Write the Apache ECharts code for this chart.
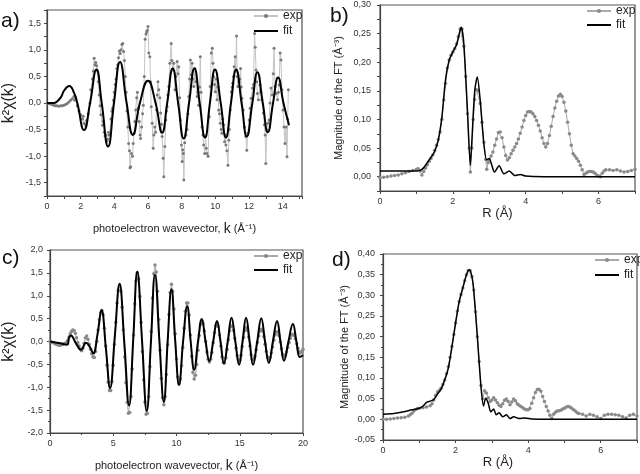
<!DOCTYPE html>
<html><head><meta charset="utf-8">
<script src="https://cdn.jsdelivr.net/npm/echarts@6/dist/echarts.min.js"></script>
<style>html,body{margin:0;padding:0;background:#fff}#c{width:640px;height:474px}</style>
</head><body><div id="c"></div>
<script>
// ---- panel a: k^2 chi(k) ----
const expA = [[0,0],[0.1,-0.01],[0.2,-0.02],[0.3,-0.03],[0.4,-0.04],[0.5,-0.05],[0.6,-0.05],[0.7,-0.06],[0.8,-0.05],[0.9,-0.05],[1.0,-0.04],[1.1,-0.03],[1.2,-0.01],[1.3,0.02],[1.4,0.05],[1.5,0.08],[1.6,0.12],[1.65,0.05],[1.7,0.1],[1.8,-0.05],[1.9,-0.15],[2.0,-0.22],[2.1,-0.3],[2.15,-0.25],[2.2,-0.38],[2.3,-0.42],[2.35,-0.33],[2.45,-0.2],[2.55,0.0],[2.6,0.25],[2.7,0.45],[2.75,0.6],[2.8,0.84],[2.85,0.72],[2.9,0.76],[2.95,0.7],[3.0,0.6],[3.05,0.4],[3.1,0.15],[3.15,-0.05],[3.2,-0.22],[3.3,-0.42],[3.35,-0.35],[3.4,-0.55],[3.45,-0.62],[3.5,-0.6],[3.55,-0.72],[3.6,-0.68],[3.65,-0.55],[3.7,-0.6],[3.8,-0.3],[3.85,-0.15],[3.9,-0.1],[3.95,0.05],[4.0,0.2],[4.05,0.35],[4.1,0.45],[4.15,0.65],[4.2,0.72],[4.25,0.85],[4.3,0.98],[4.35,0.93],[4.4,1.0],[4.45,1.1],[4.5,1.12],[4.55,0.97],[4.6,0.8],[4.65,0.5],[4.7,0.2],[4.75,-0.15],[4.8,-0.45],[4.85,-0.76],[4.9,-0.9],[4.93,-1.22],[4.97,-1.2],[5.02,-0.95],[5.08,-1.0],[5.12,-0.76],[5.17,-0.57],[5.22,-0.35],[5.27,-0.13],[5.33,0.1],[5.37,0.2],[5.42,-0.1],[5.48,-0.35],[5.53,-0.6],[5.56,-0.67],[5.62,-0.45],[5.68,-0.2],[5.72,-0.04],[5.78,0.5],[5.83,1.2],[5.88,1.3],[5.92,1.34],[5.96,1.37],[6.0,1.44],[6.05,0.94],[6.11,0.87],[6.15,0.4],[6.19,-0.07],[6.25,-0.38],[6.31,-0.85],[6.35,-0.6],[6.4,-0.45],[6.45,-0.55],[6.51,-0.13],[6.55,0.15],[6.59,0.4],[6.64,0.25],[6.7,0.1],[6.75,-0.19],[6.8,-0.4],[6.84,-0.63],[6.9,-1.04],[6.94,-1.39],[7.0,-0.82],[7.06,-0.32],[7.1,-0.15],[7.14,-0.07],[7.18,0.15],[7.24,0.31],[7.3,0.75],[7.38,1.12],[7.42,0.8],[7.46,0.62],[7.53,0.75],[7.6,0.25],[7.66,0.5],[7.73,0.78],[7.78,0.55],[7.83,0.68],[7.88,0.1],[7.93,-0.32],[7.99,-0.79],[8.03,-1.1],[8.06,-0.88],[8.1,-0.95],[8.13,-1.45],[8.18,-0.75],[8.25,-0.6],[8.32,-0.5],[8.37,-0.2],[8.42,0.12],[8.47,0.45],[8.52,0.81],[8.57,0.53],[8.62,0.75],[8.67,0.45],[8.72,0.31],[8.78,0.65],[8.84,0.4],[8.92,0.12],[8.97,0.2],[9.01,-0.04],[9.06,0.3],[9.11,0.87],[9.15,0.2],[9.21,-0.45],[9.27,-0.6],[9.31,-0.79],[9.37,-0.95],[9.42,-0.62],[9.46,-0.85],[9.51,-0.95],[9.57,-1.0],[9.64,-0.26],[9.7,0.31],[9.76,0.94],[9.82,1.03],[9.86,0.75],[9.9,0.5],[9.95,0.35],[10.0,0.21],[10.05,0.45],[10.1,0.06],[10.15,0.3],[10.2,-0.13],[10.25,-0.2],[10.3,-0.38],[10.35,-0.5],[10.39,-0.57],[10.44,-0.3],[10.49,-0.41],[10.55,-0.73],[10.6,-0.6],[10.63,-0.79],[10.69,-0.9],[10.75,-1.17],[10.8,-0.7],[10.83,-0.5],[10.89,-0.13],[10.95,0.21],[11.0,0.3],[11.03,0.37],[11.08,0.5],[11.12,0.68],[11.18,0.87],[11.22,0.6],[11.26,1.26],[11.3,0.5],[11.34,0.31],[11.42,0.4],[11.46,0.45],[11.5,0.65],[11.54,0.3],[11.58,0.09],[11.66,-0.13],[11.74,-0.45],[11.81,-0.63],[11.87,-0.89],[11.93,-0.57],[12.01,-0.32],[12.07,-0.1],[12.13,0.09],[12.21,0.28],[12.27,0.35],[12.33,1.31],[12.37,1.05],[12.42,0.62],[12.46,0.4],[12.5,0.18],[12.56,0.06],[12.66,0.34],[12.71,0.2],[12.76,0.06],[12.86,-0.19],[12.92,-0.41],[12.96,-0.6],[13.0,-1.14],[13.06,-0.51],[13.12,-0.38],[13.19,-0.32],[13.25,0.0],[13.31,0.28],[13.39,0.15],[13.44,0.55],[13.49,1.03],[13.55,0.31],[13.62,0.18],[13.7,0.06],[13.75,0.2],[13.79,0.34],[13.85,0.94],[13.9,0.81],[13.96,0.25],[14.02,-0.13],[14.08,-0.45],[14.14,-0.76],[14.2,-0.45],[14.26,-1.01],[14.3,-0.3],[14.34,0.25]];
const fitA = [[0,0],[0.4,0],[0.6,0.03],[0.83,0.11],[1.03,0.24],[1.32,0.32],[1.62,0.18],[1.8,0],[2.2,-0.51],[2.56,0],[2.94,0.63],[3.25,0],[3.63,-0.82],[3.98,0],[4.34,0.77],[4.73,0],[5.1,-0.6],[5.52,0],[6.0,0.42],[6.45,0],[6.84,-0.56],[7.14,0],[7.47,0.65],[7.79,0],[8.12,-0.67],[8.44,0],[8.76,0.65],[9.07,0],[9.39,-0.65],[9.68,0],[9.98,0.63],[10.32,0],[10.63,-0.65],[10.93,0],[11.24,0.63],[11.56,0],[11.87,-0.63],[12.2,0],[12.5,0.58],[12.82,0],[13.12,-0.55],[13.43,0],[13.73,0.48],[14.05,0],[14.38,-0.42]];

// ---- panel b: |FT| ----
const expB = [[0,-0.002],[0.1,-0.001],[0.2,0.0],[0.3,0.001],[0.4,0.002],[0.5,0.003],[0.6,0.005],[0.7,0.007],[0.8,0.009],[0.9,0.011],[1.0,0.013],[1.05,0.014],[1.1,0.01],[1.15,0.003],[1.2,0.009],[1.25,0.015],[1.3,0.021],[1.35,0.027],[1.4,0.032],[1.45,0.038],[1.5,0.046],[1.55,0.055],[1.6,0.065],[1.65,0.078],[1.7,0.1],[1.75,0.134],[1.8,0.163],[1.85,0.19],[1.9,0.204],[1.95,0.212],[2.0,0.218],[2.05,0.224],[2.1,0.232],[2.15,0.245],[2.2,0.258],[2.25,0.258],[2.3,0.228],[2.35,0.175],[2.4,0.11],[2.45,0.05],[2.48,0.008],[2.52,0.05],[2.56,0.1],[2.6,0.135],[2.65,0.152],[2.7,0.15],[2.75,0.128],[2.8,0.095],[2.85,0.06],[2.9,0.03],[2.93,0.013],[2.97,0.025],[3.0,0.03],[3.05,0.036],[3.1,0.043],[3.15,0.055],[3.2,0.066],[3.25,0.077],[3.3,0.078],[3.35,0.068],[3.4,0.052],[3.45,0.037],[3.5,0.029],[3.55,0.033],[3.6,0.04],[3.65,0.046],[3.7,0.052],[3.75,0.058],[3.8,0.066],[3.85,0.076],[3.9,0.087],[3.95,0.098],[4.0,0.107],[4.05,0.113],[4.1,0.114],[4.15,0.113],[4.2,0.11],[4.25,0.105],[4.3,0.098],[4.35,0.09],[4.4,0.08],[4.45,0.068],[4.5,0.058],[4.55,0.052],[4.6,0.058],[4.65,0.072],[4.7,0.088],[4.75,0.105],[4.8,0.12],[4.85,0.132],[4.9,0.141],[4.95,0.144],[5.0,0.14],[5.05,0.13],[5.1,0.115],[5.15,0.095],[5.2,0.075],[5.25,0.055],[5.3,0.04],[5.35,0.036],[5.4,0.032],[5.45,0.027],[5.5,0.02],[5.55,0.012],[5.6,0.004],[5.65,0.006],[5.7,0.008],[5.75,0.009],[5.8,0.009],[5.85,0.008],[5.9,0.006],[5.95,0.003],[6.0,0.001],[6.05,0.0],[6.1,0.006],[6.15,0.01],[6.2,0.012],[6.3,0.012],[6.4,0.011],[6.5,0.012],[6.6,0.01],[6.7,0.008],[6.8,0.009],[6.9,0.011],[7.0,0.013]];
const fitB = [[0,0.010],[0.5,0.010],[1.0,0.010],[1.1,0.011],[1.19,0.015],[1.28,0.023],[1.41,0.035],[1.5,0.044],[1.6,0.064],[1.7,0.105],[1.8,0.17],[1.9,0.204],[2.0,0.218],[2.1,0.23],[2.2,0.256],[2.23,0.261],[2.3,0.233],[2.4,0.116],[2.48,0.02],[2.52,0.06],[2.6,0.15],[2.67,0.174],[2.75,0.134],[2.85,0.058],[2.93,0.029],[3.0,0.032],[3.07,0.02],[3.14,0.008],[3.27,0.019],[3.4,0.005],[3.55,0.01],[3.7,0.002],[3.85,0.004],[4.0,0.001],[4.5,0.0],[5.5,0.0],[7.0,0.0]];

// ---- panel c: k^2 chi(k) ----
const expC = [[0.0,0.00],[0.1,-0.01],[0.2,-0.02],[0.3,-0.03],[0.4,-0.05],[0.5,-0.06],[0.6,-0.07],[0.7,-0.08],[0.8,-0.08],[0.9,-0.07],[1.0,-0.06],[1.1,-0.05],[1.2,-0.04],[1.3,-0.02],[1.4,0.02],[1.5,0.10],[1.6,0.17],[1.7,0.22],[1.8,0.25],[1.9,0.24],[2.0,0.18],[2.1,0.08],[2.2,-0.02],[2.3,-0.10],[2.4,-0.17],[2.5,-0.20],[2.6,-0.15],[2.7,-0.04],[2.8,0.08],[2.9,0.12],[3.0,0.05],[3.1,-0.06],[3.2,-0.17],[3.3,-0.27],[3.4,-0.34],[3.5,-0.35],[3.6,-0.22],[3.7,0.00],[3.8,0.25],[3.9,0.48],[4.0,0.63],[4.1,0.68],[4.2,0.58],[4.3,0.29],[4.4,-0.10],[4.5,-0.52],[4.6,-0.89],[4.7,-1.07],[4.8,-1.07],[4.9,-0.88],[5.0,-0.52],[5.1,-0.06],[5.2,0.42],[5.3,0.84],[5.4,1.12],[5.5,1.22],[5.6,1.10],[5.7,0.75],[5.8,0.25],[5.9,-0.34],[6.0,-0.90],[6.1,-1.33],[6.2,-1.57],[6.3,-1.55],[6.4,-1.21],[6.5,-0.60],[6.6,0.14],[6.7,0.82],[6.8,1.32],[6.9,1.50],[7.0,1.37],[7.1,0.99],[7.2,0.42],[7.3,-0.22],[7.4,-0.84],[7.5,-1.32],[7.6,-1.59],[7.7,-1.57],[7.8,-1.21],[7.9,-0.55],[8.0,0.22],[8.1,0.95],[8.2,1.48],[8.3,1.67],[8.4,1.52],[8.5,1.10],[8.6,0.48],[8.7,-0.19],[8.8,-0.81],[8.9,-1.23],[9.0,-1.38],[9.1,-1.20],[9.2,-0.72],[9.3,-0.07],[9.4,0.59],[9.5,1.07],[9.6,1.25],[9.7,1.10],[9.8,0.71],[9.9,0.17],[10.0,-0.38],[10.1,-0.77],[10.2,-0.92],[10.3,-0.82],[10.4,-0.53],[10.5,-0.13],[10.6,0.29],[10.7,0.66],[10.8,0.84],[10.9,0.84],[11.0,0.58],[11.1,0.14],[11.2,-0.32],[11.3,-0.68],[11.4,-0.82],[11.5,-0.74],[11.6,-0.50],[11.7,-0.19],[11.8,0.13],[11.9,0.37],[12.0,0.45],[12.1,0.39],[12.2,0.23],[12.3,0.00],[12.4,-0.23],[12.5,-0.39],[12.6,-0.45],[12.7,-0.39],[12.8,-0.24],[12.9,-0.03],[13.0,0.19],[13.1,0.34],[13.2,0.40],[13.3,0.33],[13.4,0.14],[13.5,-0.10],[13.6,-0.34],[13.7,-0.46],[13.8,-0.47],[13.9,-0.36],[14.0,-0.17],[14.1,0.04],[14.2,0.23],[14.3,0.33],[14.4,0.34],[14.5,0.24],[14.6,0.07],[14.7,-0.14],[14.8,-0.31],[14.9,-0.40],[15.0,-0.41],[15.1,-0.30],[15.2,-0.11],[15.3,0.09],[15.4,0.24],[15.5,0.30],[15.6,0.25],[15.7,0.10],[15.8,-0.10],[15.9,-0.29],[16.0,-0.39],[16.1,-0.39],[16.2,-0.32],[16.3,-0.18],[16.4,-0.02],[16.5,0.12],[16.6,0.23],[16.7,0.27],[16.8,0.23],[16.9,0.11],[17.0,-0.06],[17.1,-0.22],[17.2,-0.34],[17.3,-0.38],[17.4,-0.35],[17.5,-0.25],[17.6,-0.12],[17.7,0.03],[17.8,0.15],[17.9,0.21],[18.0,0.21],[18.1,0.13],[18.2,-0.01],[18.3,-0.16],[18.4,-0.28],[18.5,-0.32],[18.6,-0.30],[18.7,-0.23],[18.8,-0.13],[18.9,-0.03],[19.0,0.07],[19.1,0.14],[19.2,0.16],[19.3,0.13],[19.4,0.06],[19.5,-0.05],[19.6,-0.15],[19.7,-0.22],[19.8,-0.25],[19.9,-0.22],[20.0,-0.17]];
const fitC = [[0,0],[0.7,-0.035],[1.36,-0.07],[1.5,0.08],[1.65,0.13],[2.05,-0.04],[2.45,-0.18],[2.85,-0.03],[3.15,-0.12],[3.42,-0.26],[3.75,0.15],[4.07,0.69],[4.42,-0.15],[4.75,-1.02],[5.12,0.1],[5.5,1.26],[5.88,-0.05],[6.25,-1.4],[6.58,0.05],[6.9,1.53],[7.28,0],[7.65,-1.52],[7.98,0],[8.3,1.46],[8.65,0],[9.0,-1.32],[9.3,0],[9.6,1.14],[9.9,0],[10.2,-0.95],[10.52,0],[10.85,0.77],[11.12,0],[11.4,-0.62],[11.7,0],[12.0,0.49],[12.3,0],[12.6,-0.43],[12.9,0],[13.2,0.45],[13.48,0],[13.75,-0.48],[14.05,0],[14.35,0.52],[14.65,0],[14.95,-0.51],[15.22,0],[15.5,0.52],[15.78,0],[16.05,-0.51],[16.38,0],[16.7,0.51],[17.0,0],[17.3,-0.47],[17.62,0],[17.95,0.45],[18.22,0],[18.5,-0.42],[18.85,0],[19.2,0.38],[19.48,0],[19.75,-0.34],[20,-0.3]];

// ---- panel d: |FT| ----
const expD = [[0,0.0],[0.1,0.0],[0.2,0.001],[0.3,0.002],[0.4,0.003],[0.5,0.004],[0.6,0.005],[0.7,0.008],[0.75,0.011],[0.8,0.015],[0.85,0.02],[0.9,0.024],[0.95,0.026],[1.0,0.027],[1.1,0.028],[1.2,0.03],[1.3,0.033],[1.35,0.038],[1.4,0.047],[1.45,0.058],[1.5,0.066],[1.55,0.07],[1.6,0.075],[1.65,0.084],[1.7,0.095],[1.75,0.11],[1.8,0.128],[1.85,0.15],[1.9,0.176],[1.95,0.205],[2.0,0.233],[2.05,0.262],[2.1,0.285],[2.15,0.302],[2.2,0.318],[2.25,0.335],[2.3,0.35],[2.35,0.36],[2.4,0.36],[2.45,0.345],[2.5,0.313],[2.55,0.26],[2.6,0.2],[2.65,0.14],[2.7,0.082],[2.75,0.05],[2.8,0.069],[2.85,0.064],[2.9,0.052],[2.95,0.043],[3.0,0.047],[3.05,0.052],[3.1,0.047],[3.15,0.04],[3.2,0.034],[3.25,0.031],[3.3,0.038],[3.35,0.046],[3.4,0.049],[3.45,0.043],[3.5,0.035],[3.55,0.042],[3.6,0.049],[3.65,0.045],[3.7,0.038],[3.75,0.034],[3.8,0.031],[3.85,0.028],[3.9,0.025],[3.95,0.023],[4.0,0.023],[4.05,0.026],[4.1,0.039],[4.15,0.052],[4.2,0.065],[4.25,0.072],[4.3,0.073],[4.35,0.068],[4.4,0.055],[4.45,0.043],[4.5,0.031],[4.55,0.02],[4.6,0.01],[4.65,0.002],[4.7,0.012],[4.75,0.017],[4.8,0.02],[4.85,0.021],[4.9,0.022],[4.95,0.025],[5.0,0.027],[5.05,0.03],[5.1,0.031],[5.15,0.03],[5.2,0.027],[5.25,0.023],[5.3,0.02],[5.35,0.016],[5.4,0.014],[5.5,0.012],[5.6,0.008],[5.7,0.012],[5.8,0.01],[5.9,0.006],[6.0,0.002],[6.1,0.01],[6.2,0.012],[6.3,0.012],[6.4,0.011],[6.5,0.01],[6.6,0.006],[6.7,0.003],[6.8,0.01],[6.9,0.012],[7.0,0.008]];
const fitD = [[0,0.012],[0.3,0.014],[0.5,0.017],[0.8,0.023],[1.0,0.027],[1.1,0.032],[1.2,0.041],[1.3,0.044],[1.4,0.048],[1.5,0.061],[1.6,0.073],[1.7,0.095],[1.8,0.124],[1.9,0.176],[2.0,0.233],[2.1,0.285],[2.2,0.318],[2.3,0.35],[2.38,0.362],[2.45,0.346],[2.5,0.313],[2.6,0.2],[2.7,0.079],[2.77,0.032],[2.83,0.051],[2.9,0.039],[2.97,0.018],[3.05,0.025],[3.12,0.011],[3.2,0.016],[3.3,0.006],[3.4,0.011],[3.5,0.002],[3.6,0.006],[3.75,0.002],[3.9,0.003],[4.1,0.001],[4.5,0],[7,0]];

const panelLetters = ['a)', 'b)', 'c)', 'd)'];
const chiName = 'k\u00b2\u03c7(k)';
const ftName = 'Magnitude of the FT (\u00c5\u207b\u00b3)';
const kName = '{a|photoelectron wavevector, }{k|k}{a| (\u00c5\u207b\u00b9)}';
const rName = 'R (\u00c5)';
const legendNames = ['exp', 'fit'];

const FONT = '"Liberation Sans", Arial, Helvetica, sans-serif';
const AX = '#444';
function fmt(step, dec) {
  return function (v) {
    if (Math.abs(v) < 1e-9) v = 0;
    const q = v / step;
    if (Math.abs(q - Math.round(q)) > 1e-6) return '';
    return v.toFixed(dec).replace('.', ',');
  };
}
function xAx(gi, min, max, interval, labStep, dec, name, gap, nts, minor) {
  return {
    type: 'value', gridIndex: gi, min: min, max: max, interval: interval,
    name: name, nameLocation: 'middle', nameGap: gap,
    nameTextStyle: Object.assign({ fontFamily: FONT, color: '#222' }, nts),
    axisLine: { show: true, onZero: false, lineStyle: { color: AX, width: 1.2 } },
    axisTick: { show: true, inside: false, length: 3, lineStyle: { color: AX } },
    minorTick: { show: !!minor, splitNumber: minor || 2, length: 2, lineStyle: { color: AX } },
    splitLine: { show: false }, minorSplitLine: { show: false },
    axisLabel: { fontSize: 9, fontFamily: FONT, color: '#333', margin: 6, formatter: fmt(labStep, dec) }
  };
}
function yAx(gi, min, max, interval, labStep, dec, name, gap, nts, minor, margin) {
  return {
    type: 'value', gridIndex: gi, min: min, max: max, interval: interval,
    name: name, nameLocation: 'middle', nameGap: gap,
    nameTextStyle: Object.assign({ fontFamily: FONT, color: '#222' }, nts),
    axisLine: { show: true, onZero: false, lineStyle: { color: AX, width: 1.2 } },
    axisTick: { show: true, inside: false, length: 3, lineStyle: { color: AX } },
    minorTick: { show: !!minor, splitNumber: minor || 2, length: 2, lineStyle: { color: AX } },
    splitLine: { show: false }, minorSplitLine: { show: false },
    axisLabel: { fontSize: 9, fontFamily: FONT, color: '#333', margin: margin, formatter: fmt(labStep, dec) }
  };
}
function gridBox(left, top, width, height) {
  return { left: left, top: top, width: width, height: height, show: true, borderColor: '#555', borderWidth: 1.2, backgroundColor: 'transparent', containLabel: false };
}
function expSeries(name, gi, data, lineColor, symColor, size) {
  return { name: name, type: 'line', xAxisIndex: gi, yAxisIndex: gi, data: data, smooth: false,
    symbol: 'circle', symbolSize: size, showSymbol: true,
    lineStyle: { color: lineColor, width: 1 }, itemStyle: { color: symColor }, z: 2 };
}
function fitSeries(name, gi, data, width, smooth) {
  return { name: name, type: 'line', xAxisIndex: gi, yAxisIndex: gi, data: data, smooth: smooth,
    symbol: 'none', lineStyle: { color: '#000', width: width }, itemStyle: { color: '#000' }, z: 3 };
}
function legendAt(left, top, suffix, gap) {
  return { show: true, orient: 'vertical', left: left, top: top, padding: 0, itemGap: gap,
    itemWidth: 24, itemHeight: 5,
    data: [ { name: legendNames[0] + suffix }, { name: legendNames[1] + suffix, itemStyle: { opacity: 0 } } ],
    formatter: n => n.slice(0, 3),
    textStyle: { fontFamily: FONT, fontSize: 12, color: '#222' }, selectedMode: false };
}
const kRich = { a: { fontSize: 11, fontFamily: FONT, color: '#222' }, k: { fontSize: 14, fontFamily: FONT, color: '#222' } };

const chart = echarts.init(document.getElementById('c'), null, { renderer: 'canvas' });
chart.setOption({
  animation: false,
  backgroundColor: '#fff',
  grid: [gridBox(46, 10, 256, 186), gridBox(380, 5, 255, 186), gridBox(48, 250, 255, 186), gridBox(383, 254, 254, 186)],
  xAxis: [
    xAx(0, 0, 15.15, 1, 2, 0, kName, 26, { rich: kRich }),
    xAx(1, 0, 7, 1, 2, 0, rName, 15, { fontSize: 13, padding: [0, 20, 0, 0] }),
    xAx(2, 0, 20, 5, 5, 0, kName, 26, { rich: kRich }, 2),
    xAx(3, 0, 7, 1, 2, 0, rName, 10, { fontSize: 13, padding: [0, 24, 0, 0] })
  ],
  yAxis: [
    yAx(0, -1.75, 1.75, 0.25, 0.5, 1, chiName, 30, { fontSize: 16 }, 0, 6),
    yAx(1, -0.025, 0.30, 0.025, 0.05, 2, ftName, 36, { fontSize: 11 }, 0, 9),
    yAx(2, -2, 2, 0.5, 0.5, 1, chiName, 33, { fontSize: 16 }, 2, 7),
    yAx(3, -0.05, 0.40, 0.05, 0.05, 2, ftName, 33, { fontSize: 11 }, 2, 8)
  ],
  legend: [legendAt(253, 10, 'A', 3), legendAt(586, 5, 'B', 2), legendAt(253, 250, 'C', 2), legendAt(594, 254, 'D', 3)],
  series: [
    expSeries('expA', 0, expA, '#c4c4c4', '#7a7a7a', 3),
    fitSeries('fitA', 0, fitA, 2, 0.5),
    expSeries('expB', 1, expB, '#aaaaaa', '#8a8a8a', 3.5),
    fitSeries('fitB', 1, fitB, 1.5, 0.25),
    expSeries('expC', 2, expC, '#aaaaaa', '#8a8a8a', 3.5),
    fitSeries('fitC', 2, fitC, 2, 0.45),
    expSeries('expD', 3, expD, '#aaaaaa', '#8a8a8a', 3.5),
    fitSeries('fitD', 3, fitD, 1.5, 0.25)
  ],
  graphic: [
    { type: 'text', x: 1, y: 21, style: { text: panelLetters[0], font: '21px ' + FONT, fill: '#111', verticalAlign: 'middle' } },
    { type: 'text', x: 330, y: 16, style: { text: panelLetters[1], font: '21px ' + FONT, fill: '#111', verticalAlign: 'middle' } },
    { type: 'text', x: 2, y: 258, style: { text: panelLetters[2], font: '21px ' + FONT, fill: '#111', verticalAlign: 'middle' } },
    { type: 'text', x: 332, y: 260, style: { text: panelLetters[3], font: '21px ' + FONT, fill: '#111', verticalAlign: 'middle' } }
  ]
});
</script>
</body></html>
